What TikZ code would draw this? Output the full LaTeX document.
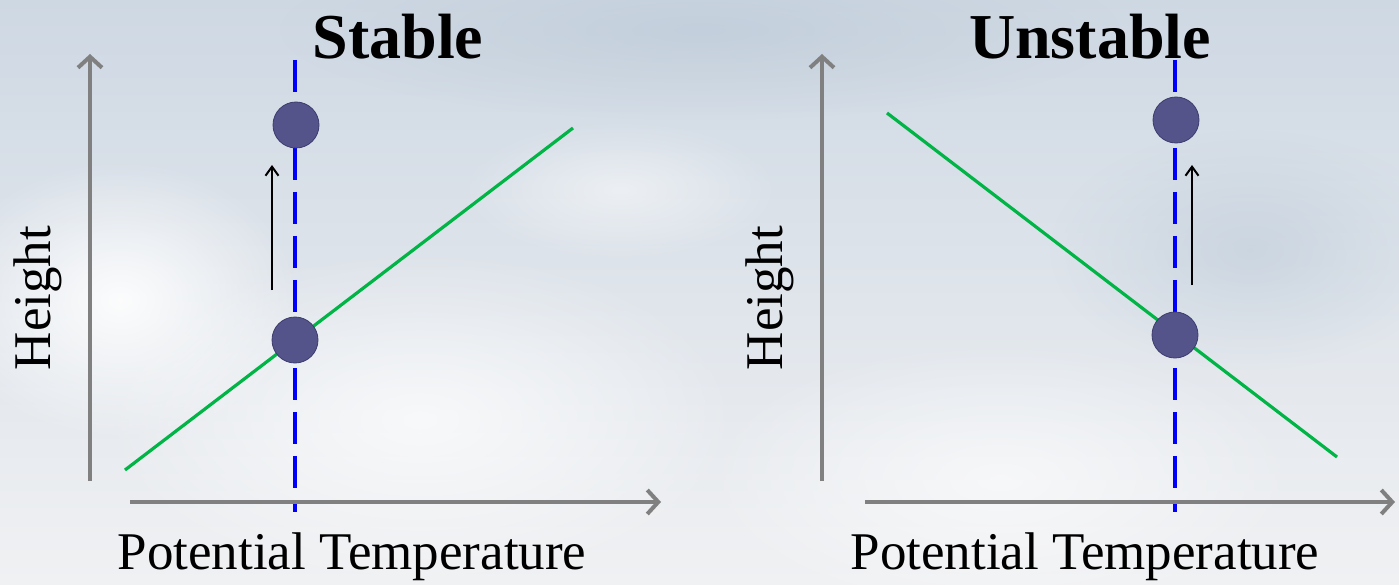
\documentclass[tikz,border=0pt]{standalone}
\usepackage{fontspec}
\setmainfont{Liberation Serif}
\usetikzlibrary{arrows.meta,fadings}
\tikzfading[name=softblob, inner color=transparent!0, outer color=transparent!100]
\definecolor{axisgray}{RGB}{128,128,128}
\definecolor{linegreen}{RGB}{0,180,70}
\definecolor{dashblue}{RGB}{0,0,250}
\definecolor{parcel}{RGB}{84,84,138}
\definecolor{parcelrim}{RGB}{60,60,110}
\definecolor{skytop}{RGB}{206,216,227}
\definecolor{skybot}{RGB}{240,241,243}
\definecolor{skydark}{RGB}{192,205,218}
\tikzset{
  axis/.style={draw=axisgray, line width=4pt, -{Straight Barb[length=11pt,width=24pt,line width=4pt]}},
  profile/.style={draw=linegreen, line width=3.2pt},
  vdash/.style={draw=dashblue, line width=3.2pt, dash pattern=on 32pt off 12pt},
  ball/.style={circle, minimum size=46pt, inner sep=0pt, fill=parcel, draw=parcelrim, line width=0.8pt},
  lift/.style={draw=black, line width=2pt, -{Straight Barb[length=9pt,width=13pt,line width=2pt]}},
  lbl/.style={font=\fontsize{53}{60}\selectfont, text=black, inner sep=0pt},
  ttl/.style={font=\fontsize{64}{72}\selectfont\bfseries, text=black, inner sep=0pt},
  cloud/.style={fill=white, path fading=softblob},
  haze/.style={fill=skydark, path fading=softblob}
}
\begin{document}
\begin{tikzpicture}[x=1pt,y=-1pt]
\useasboundingbox (0,0) rectangle (1399,585);
\begin{scope}
\clip (0,0) rectangle (1399,585);
\shade[top color=skytop, bottom color=skybot] (0,0) rectangle (1399,585);
% soft cloud texture
\fill[haze, opacity=0.8] (700,30) ellipse [x radius=420pt, y radius=90pt];
\fill[haze, opacity=0.6] (1250,250) ellipse [x radius=200pt, y radius=120pt];
\fill[cloud, opacity=0.9] (120,300) ellipse [x radius=180pt, y radius=140pt];
\fill[cloud, opacity=0.7] (420,420) ellipse [x radius=320pt, y radius=170pt];
\fill[cloud, opacity=0.6] (1000,480) ellipse [x radius=300pt, y radius=140pt];
\fill[cloud, opacity=0.5] (620,190) ellipse [x radius=160pt, y radius=70pt];
\end{scope}

% ---------- left panel: Stable ----------
\coordinate (ya0) at (90,481);
\coordinate (ya1) at (90,54);
\coordinate (xa0) at (130,502);
\coordinate (xa1) at (661,502);
\coordinate (g0) at (125,470);
\coordinate (g1) at (573,128);
\coordinate (d0) at (295,60);
\coordinate (d1) at (295,512);
\coordinate (a0) at (272,290);
\coordinate (a1) at (272,165);

\draw[profile] (g0) -- (g1);
\draw[vdash] (d0) -- (d1);
\draw[axis] (ya0) -- (ya1);
\draw[axis] (xa0) -- (xa1);
\node[ball] (bt) at (296,125) {};
\node[ball] (bb) at (295,340) {};
\draw[lift] (a0) -- (a1);
\node[ttl] (t1) at (398,37) {Stable};
\node[lbl, rotate=90] (h1) at (38,298) {Height};
\node[lbl] (p1) at (352,557) {Potential Temperature};

% ---------- right panel: Unstable ----------
\coordinate (yb0) at (822,481);
\coordinate (yb1) at (822,54);
\coordinate (xb0) at (865,502);
\coordinate (xb1) at (1395,502);
\coordinate (h0) at (887,113);
\coordinate (h1e) at (1337,457);
\coordinate (e0) at (1175,60);
\coordinate (e1) at (1175,512);
\coordinate (c0) at (1192,285);
\coordinate (c1) at (1192,165);

\draw[profile] (h0) -- (h1e);
\draw[vdash] (e0) -- (e1);
\draw[axis] (yb0) -- (yb1);
\draw[axis] (xb0) -- (xb1);
\node[ball] (ct) at (1176,120) {};
\node[ball] (cb) at (1175,335) {};
\draw[lift] (c0) -- (c1);
\node[ttl] (t2) at (1090,37) {Unstable};
\node[lbl, rotate=90] (h2) at (770,298) {Height};
\node[lbl] (p2) at (1085,557) {Potential Temperature};
\end{tikzpicture}
\end{document}
